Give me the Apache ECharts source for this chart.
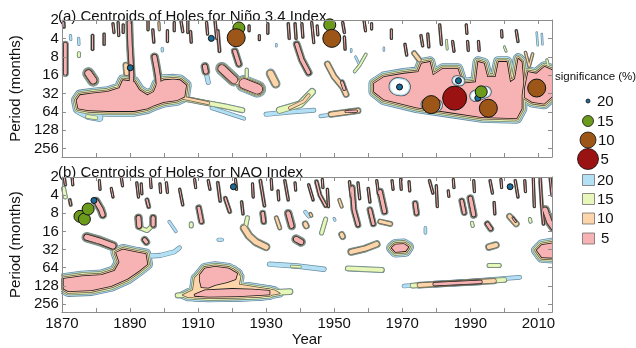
<!DOCTYPE html>
<html>
<head>
<meta charset="utf-8">
<script src="https://cdn.jsdelivr.net/npm/echarts@6/dist/echarts.min.js"></script>
<style>
html, body { margin: 0; padding: 0; background: #fff; }
#chart { width: 636px; height: 348px; }
</style>
</head>
<body>
<div id="chart"></div>
<script>
// significance levels, outermost first
const levelNames = ['20', '15', '10', '5']
const periodTicks = [2, 4, 8, 16, 32, 64, 128, 256]
const yearLabelStep = 20

// ---- (a) Nino 3.4 : filled regions [level, [[year, months], ...]]
const ninoAreas = [
    [3, [[1874.3,41],[1875.3,34],[1878.7,32],[1883.5,30],[1886.9,26],[1887.9,19.3],[1891.2,20.5],[1892.7,28],[1895.1,34],[1897,30],[1898,22],[1899.9,19.3],[1902.8,18.8],[1904.7,19.3],[1906.5,23.3],[1906,36],[1903.8,41],[1899.9,44],[1897,50],[1895.1,56],[1891.2,62],[1883.5,62],[1877.7,60],[1874.8,56]]],
    [3, [[1961.7,22],[1964.6,17.2],[1970.4,15.1],[1974.7,14.2],[1975.7,10.3],[1978.1,9.7],[1979,16.1],[1981.9,12.6],[1986.3,12.6],[1987.7,22],[1991.6,20.8],[1992.3,9.7],[1994,10.3],[1995,17.2],[1997.4,17.2],[1998.3,9.7],[2000.7,9.7],[2001.7,20.8],[2003.1,18.4],[2004.1,8.6],[2005.1,9.7],[2005.6,20.8],[2005.1,34],[2005.1,57],[2003.6,81],[1993.5,78],[1983.9,65],[1974.2,54],[1964.6,40],[1961.7,30]]],
    [3, [[2006,26.7],[2007,14.2],[2009.4,15.1],[2011.8,11.7],[2013.8,13],[2014.5,14],[2014.5,34],[2011.7,47],[2008.2,44],[2006,37]]],
]
// streaks [level, width (octaves), [[year, months], ...]]
const ninoStreaks = [
    [3,0.3,[[1871,5],[1871,15]]], [3,0.15,[[1870.5,2.2],[1870.6,2.6]]], [0,0.1,[[1872.5,3.6],[1872.6,4.2]]],
    [1,0.15,[[1875,7],[1875,7.8]]], [0,0.1,[[1874.9,4],[1875,5]]], [3,0.15,[[1879,3.6],[1879,6]]],
    [3,0.12,[[1882.4,3.4],[1882.4,5]]], [3,0.06,[[1885,2.3],[1885.3,3.2]]], [3,0.06,[[1886.5,2.2],[1886.7,3.6]]],
    [3,0.06,[[1888,2.4],[1888,3.2]]], [3,0.35,[[1889.8,2.2],[1890,5],[1890.3,10],[1890.5,16],[1890.3,24]]],
    [2,0.3,[[1888.8,11],[1889,15]]], [3,0.06,[[1895.3,2.1],[1895.3,2.9]]], [3,0.1,[[1896.7,2.9],[1897,4.6]]],
    [2,0.06,[[1898.5,2.2],[1898.6,2.9]]], [3,0.08,[[1901,3],[1901,4.5]]], [3,0.06,[[1903,2.2],[1903,3]]],
    [3,0.08,[[1905,2.1],[1905.5,3.1]]], [3,0.06,[[1907,2.1],[1907,3.2]]], [3,0.1,[[1907.8,3.1],[1908,4.6]]],
    [0,0.1,[[1899.5,5.8],[1899.5,6.4]]], [3,0.4,[[1897.2,8],[1897.8,12],[1898.3,18],[1898.5,26]]],
    [0,0.2,[[1899,17],[1905,18]]], [3,0.6,[[1877.8,15],[1879.2,19.5]]],
    [0,0.35,[[1875,62],[1878,75],[1881,80]]], [1,0.2,[[1877.5,76],[1880,80]]],
    [1,0.25,[[1905,38],[1912,45],[1918,52],[1923,60]]], [2,0.2,[[1906,38],[1913,46]]], [0,0.15,[[1914,55],[1923.5,82]]],
    [3,0.4,[[1912,11.5],[1912.3,14]]], [0,0.2,[[1912.3,14],[1913,21]]],
    [3,0.08,[[1912.5,2.2],[1912.8,3.4]]], [3,0.1,[[1915,2.1],[1915.5,4]]], [3,0.15,[[1915.8,3],[1916.3,6.5]]],
    [3,0.35,[[1920.8,6.5],[1922,10.5]]], [3,0.65,[[1917,12.5],[1920.5,19]]], [3,0.85,[[1923.5,22],[1927.5,27]]],
    [2,0.3,[[1920.5,20],[1923,22]]], [1,0.15,[[1924.3,13],[1924.3,17]]], [2,0.45,[[1931.3,15],[1932.8,22]]],
    [0,0.2,[[1930,70],[1937,64],[1944,60]]], [1,0.35,[[1934,60],[1940,48],[1943.5,30]]], [2,0.2,[[1937,55],[1941,43],[1942.5,34]]],
    [2,0.3,[[1949,70],[1957,61]]], [3,0.2,[[1953.5,63],[1956.5,62]]], [0,0.15,[[1946,75],[1949,71]]],
    [2,0.3,[[1948,10.5],[1950,17],[1952.5,25],[1953.5,33]]], [3,0.25,[[1952.3,21],[1953,27]]],
    [3,0.35,[[1939,5],[1940.5,9],[1942.5,14.5]]],
    [1,0.12,[[1956,14],[1957.5,11],[1959.3,7.3]]], [0,0.08,[[1957.5,11],[1956.3,8]]],
    [3,0.08,[[1925,2.5],[1925,3]]], [3,0.05,[[1928,3.6],[1928,4.2]]], [3,0.08,[[1930.5,2.3],[1930.5,3.3]]],
    [0,0.06,[[1933,5],[1933,5.4]]], [3,0.1,[[1936.5,2.3],[1936.8,4]]], [3,0.1,[[1938.5,2.3],[1938.8,4]]],
    [3,0.08,[[1940.5,2.3],[1940.8,3.8]]], [3,0.06,[[1943.4,2.2],[1944,4.7]]], [3,0.06,[[1945,2.5],[1945.2,3.5]]],
    [3,0.1,[[1952.5,2.2],[1953,3.2]]], [3,0.1,[[1953,3.8],[1953.2,6]]], [3,0.06,[[1958.8,2.1],[1959.2,3]]],
    [3,0.05,[[1961,2.3],[1961,2.8]]], [0,0.06,[[1955,6],[1955,6.6]]], [0,0.06,[[1964.6,5.7],[1964.6,6.3]]],
    [3,0.06,[[1966.8,2.9],[1966.8,4]]], [3,0.1,[[1970.8,5],[1971.3,7.5]]], [2,0.25,[[1973.5,7],[1975,9]]],
    [3,0.08,[[1975.5,3.6],[1976,5.3]]], [3,0.1,[[1977.5,3.4],[1977.8,5.5]]], [3,0.1,[[1981,2.4],[1981.5,5]]],
    [1,0.08,[[1983,4.3],[1983.2,6]]], [3,0.08,[[1984.8,4.5],[1985.2,6.5]]], [3,0.06,[[1988.8,2.4],[1989,3.3]]],
    [3,0.08,[[1989.2,4.5],[1989.4,6.3]]], [3,0.08,[[1992.4,4.5],[1992.6,6.3]]], [3,0.05,[[1999.2,3],[1999.3,3.8]]],
    [1,0.08,[[2000,5.5],[2000.5,6.5]]], [3,0.08,[[2003.5,3],[2004,4.5]]], [0,0.06,[[2009.5,3.2],[2009.8,5.2]]],
    [0,0.06,[[2011,3.4],[2011.2,5]]], [2,0.12,[[2006.2,6.8],[2007.3,11.5],[2008.3,7.2]]],
    [1,0.3,[[2004.5,24],[2006.5,26]]], [1,0.1,[[2012.5,9],[2013,12]]],
]
// holes [width (octaves), [[year, months], ...]]
const ninoHoles = [
    [0.8,[[1968.7,24.5],[1969.8,25]]], [0.35,[[1986,19.5],[1987,20]]], [0.5,[[1977.3,48],[1980,50]]],
    [0.6,[[1984.5,38],[1986.5,38]]], [0.45,[[1991.5,35],[1994.5,30]]],
]
// hole centroids by significance [year, months]
const ninoC20 = [[1890.1,12.1],[1913.9,4.0],[1969.2,25],[1986.5,19.7],[1992.2,38]]
const ninoC15 = [[1922,2.7],[1948.7,2.4],[1993.2,30]]
const ninoC10 = [[1921.2,3.9],[1949.3,4.0],[1978.5,48.5],[1995.3,55.7],[2009.5,26]]
const ninoC5 = [[1985.4,38]]

// ---- (b) NAO
const naoAreas = [
    [3, [[1870.5,98],[1875.8,89],[1881.6,85],[1885.5,72],[1886.9,52],[1885.9,36],[1887.9,32],[1892.2,36],[1894.6,38],[1895.1,56],[1892.7,72],[1889.3,98],[1884.5,129],[1878.7,152],[1871.9,158],[1870.5,143]]],
    [2, [[1909,95],[1911.5,68],[1916,62],[1920.5,68],[1922.5,90],[1922,122],[1928,138],[1932.5,152],[1934,172],[1928,196],[1915,204],[1907,198],[1905.5,182],[1908.5,150]]],
    [3, [[1910.5,85],[1912,66],[1915,62],[1919,66],[1921.5,80],[1921,100],[1918.5,112],[1915,124],[1913,138],[1911,135],[1910.5,105]]],
    [3, [[1909,178],[1912,152],[1920,144],[1926,147],[1931,155],[1931,178],[1922,190],[1913,194],[1909,188]]],
    [3, [[1966.9,30],[1968,26.5],[1970.5,26],[1971.8,29],[1971,34],[1968,35]]],
    [3, [[2009.5,33],[2011,27],[2014.5,25],[2014.5,44],[2011,43]]],
]
const naoStreaks = [
    [3,0.5,[[1877.3,20],[1881,23],[1885,28]]], [0,0.2,[[1893,42],[1899,40],[1903,35],[1904.5,30]]],
    [3,0.4,[[1892.5,9.5],[1892.7,13]]], [3,0.35,[[1896.8,9.5],[1896.8,12.5]]], [1,0.2,[[1893,14],[1895,15.5],[1896.5,13]]],
    [3,0.35,[[1894.3,22],[1894.8,24]]], [0,0.12,[[1901.5,11],[1903.5,16]]], [1,0.2,[[1908,12],[1908,13]]],
    [3,0.3,[[1910.2,6.5],[1911,11]]], [0,0.15,[[1916,22],[1917,22]]],
    [1,0.25,[[1904,185],[1909,180]]], [1,0.3,[[1930,168],[1937,160]]],
    [0,0.22,[[1931,56],[1939,60],[1947,68]]], [1,0.12,[[1937.5,61],[1940,62]]], [1,0.25,[[1954,66],[1964,70]]],
    [2,0.4,[[1923.5,14],[1925,19],[1927,24],[1930,29]]], [1,0.2,[[1924.5,9.5],[1924,13]]],
    [3,0.45,[[1938.8,21.5],[1940.3,24]]], [2,0.35,[[1955,35],[1959,31],[1962.5,26]]],
    [0,0.18,[[1970.5,129],[2004.5,93]]], [1,0.25,[[1973,127],[2000,102]]], [2,0.3,[[1975,125],[1997,106]]], [3,0.3,[[1979.5,120],[1993,110]]],
    [1,0.2,[[1995.5,59],[1998.5,59]]], [2,0.35,[[1995.5,29],[1997.5,27]]], [3,0.45,[[2012,7],[2013.2,11],[2014.5,14]]],
    [0,0.12,[[1976.8,14],[1976.8,17]]], [0,0.15,[[1941.5,7.6],[1942.5,9]]], [1,0.2,[[1947.5,10],[1946.3,17]]],
    [0,0.1,[[1950,9.8],[1950.2,10.4]]], [2,0.3,[[1952.2,18],[1952.5,19.5]]], [2,0.25,[[1963.5,11],[1966.5,12]]],
    [1,0.15,[[1990.5,11.5],[1990.7,13]]], [3,0.3,[[1995,12],[1996,14.5]]], [2,0.3,[[2001.5,9],[2003.5,12]]],
    [3,0.15,[[2002.5,9.5],[2003.3,11]]], [1,0.15,[[2007.5,10],[2007.7,11]]],
    [3,0.3,[[1929,8],[1929.3,11]]], [2,0.2,[[1933,9.5],[1934,14]]], [3,0.4,[[1936.5,8],[1937.5,13]]],
    [2,0.3,[[1941.5,12],[1941.8,13]]], [2,0.15,[[1943,8.2],[1943.3,8.8]]], [3,0.3,[[1955.3,3],[1955.8,7],[1957,12.5]]],
    [3,0.3,[[1960.5,7],[1961.5,12]]],
    [3,0.12,[[1870.7,2.1],[1871,2.7]]], [3,0.05,[[1873,2.1],[1873.2,2.7]]], [3,0.15,[[1872.3,4.8],[1872.6,5.8]]],
    [1,0.2,[[1870.5,3.1],[1871,4.3]]], [3,0.4,[[1880,5],[1881.5,7],[1882,8.5]]], [3,0.06,[[1881,2.3],[1881.2,3.2]]],
    [3,0.05,[[1884.5,3.1],[1885,4.3]]], [3,0.05,[[1887.5,2.1],[1887.8,2.8]]], [3,0.08,[[1892,2.5],[1892.5,4.3]]],
    [3,0.06,[[1893.3,2.6],[1893.5,3.8]]], [3,0.2,[[1895,4.8],[1895.5,6.2]]], [3,0.05,[[1896,2.1],[1896.2,3]]],
    [3,0.05,[[1898.8,2.6],[1899,3.6]]], [3,0.08,[[1900.7,2.5],[1901,3.6]]], [3,0.1,[[1904.6,3.2],[1905.5,5.8]]],
    [3,0.05,[[1909,2.2],[1909.3,3]]], [3,0.08,[[1913,2.3],[1913.5,3.2]]],
    [3,0.15,[[1915.8,2.5],[1916.5,5]]], [3,0.2,[[1918,4.5],[1919.3,7.5]]], [3,0.05,[[1921,2.2],[1921.3,3.2]]],
    [3,0.12,[[1922.8,5.2],[1923.2,8.2]]], [3,0.06,[[1926,2.6],[1926.2,4.3]]], [3,0.15,[[1928.3,2.3],[1929.5,6]]],
    [3,0.05,[[1931.5,2.2],[1931.7,3.2]]], [3,0.08,[[1933.5,3.4],[1933.7,4.8]]], [3,0.12,[[1935.5,2.3],[1936.5,4.8]]],
    [3,0.05,[[1938.5,2.5],[1938.7,3.3]]], [3,0.1,[[1942.5,2.7],[1943.8,4.8]]], [3,0.05,[[1946.5,2.2],[1946.7,3]]],
    [3,0.2,[[1944.8,2.4],[1945.8,4],[1947.5,6]]], [3,0.1,[[1948,3.2],[1948.3,6.2]]], [2,0.15,[[1951.5,4.8],[1952.2,6.2]]],
    [3,0.1,[[1954.5,2.4],[1955,4.2]]], [3,0.08,[[1957,2.5],[1957.5,4.6]]], [3,0.1,[[1960,3.1],[1960.5,5.2]]],
    [3,0.06,[[1962.5,2.3],[1963,3.8]]], [3,0.35,[[1963.5,3.5],[1964.8,7.5]]], [3,0.06,[[1967,2.3],[1967.3,3.2]]],
    [3,0.05,[[1969.5,2.2],[1969.7,3.2]]], [3,0.3,[[1973.8,5.5],[1974.2,8]]], [3,0.08,[[1972,2.4],[1972.2,3.4]]],
    [3,0.1,[[1978,2.3],[1979,3.7]]], [3,0.08,[[1980,2.8],[1980.3,6.2]]], [3,0.05,[[1983.5,3.4],[1983.7,4.2]]],
    [3,0.05,[[1985,2.2],[1985.2,3]]], [3,0.3,[[1987.5,5],[1988.2,7.8]]], [3,0.35,[[1990,4.5],[1991,8.5]]],
    [3,0.05,[[1991,2.3],[1991.2,3.5]]], [3,0.08,[[1995.8,2.3],[1996.5,3.7]]], [3,0.1,[[1997,5.3],[1997.2,8.2]]],
    [3,0.05,[[1999,2.2],[1999.2,3]]], [3,0.1,[[2003.2,2.3],[2004,4.3]]], [3,0.06,[[2006,2.3],[2006.2,3.5]]],
    [3,0.06,[[2008.5,2.1],[2008.8,6.2]]], [3,0.15,[[2010.5,2.1],[2011,6],[2011.5,12]]], [3,0.12,[[2013.5,2.1],[2014,4]]],
]
const naoHoles = []
const naoC20 = [[1879.4,4.9],[1920.4,2.9],[2001.7,2.9]]
const naoC15 = [[1875.3,9.0],[1876.6,10.0],[1877.7,6.8]]
const naoC10 = []
const naoC5 = []

// ---- styles
const fills = ['#b4e0f6', '#e6f7b9', '#fcd5aa', '#f7b3b4']
const edges = ['#6a8c9f', '#7b896a', '#67594b', '#1a1a1a']
const dotColors = ['#1b6b99', '#6c9b1c', '#9c5718', '#9a1212']
const dotSizes = [6, 12, 18, 24]
const BAND = 1.6
const EDGE = 0.8
const FONT = '"Liberation Sans", Arial, sans-serif'

function toXY(p) { return [p[0], Math.log2(p[1])] }

function contourSeries(g, areas, streaks, holes) {
    let list = []
    for (let k = 0; k < 4; k++) {
        let items = []
        areas.forEach(a => { if (a[0] >= k) items.push({ area: true, lv: a[0], pts: a[1] }) })
        streaks.forEach(s => { if (s[0] >= k) items.push({ area: false, lv: s[0], w: s[1], pts: s[2] }) })
        ;['edge', 'fill'].forEach((pass, j) => {
            list.push({
                type: 'custom', coordinateSystem: 'cartesian2d',
                xAxisIndex: g * 2, yAxisIndex: g * 2,
                clip: true, silent: true, z: 2 + k * 2 + j,
                data: items.map(it => toXY(it.pts[0])),
                renderItem(params, api) {
                    let it = items[params.dataIndex]
                    let pts = it.pts.map(p => api.coord(toXY(p)))
                    let oct = Math.abs(api.coord([1900, 2])[1] - api.coord([1900, 1])[1])
                    let color = pass === 'edge' ? edges[k] : fills[k]
                    if (it.area) {
                        let lw = 2 * (it.lv - k) * BAND + (pass === 'edge' ? 2 * EDGE : 0)
                        return { type: 'polygon', shape: { points: pts },
                            style: { fill: color, stroke: color, lineWidth: lw, lineJoin: 'round' } }
                    }
                    // streak width is the outer width; inner levels shrink inside it
                    let outer = it.w * oct
                    let band = Math.min(BAND, 0.06 * outer + 0.1)
                    let core = Math.max(outer - 2 * it.lv * band, 1)
                    let lw = core + 2 * (it.lv - k) * band + (pass === 'edge' ? 1.4 : 0)
                    return { type: 'polyline', shape: { points: pts },
                        style: { fill: null, stroke: color, lineWidth: lw, lineCap: 'round', lineJoin: 'round' } }
                }
            })
        })
    }
    ;[['#555', 2 * EDGE + 2.4], [fills[0], 2.4], ['#fff', 0]].forEach((st, j) => {
        list.push({
            type: 'custom', coordinateSystem: 'cartesian2d',
            xAxisIndex: g * 2, yAxisIndex: g * 2,
            clip: true, silent: true, z: 12 + j,
            data: holes.map(h => toXY(h[1][0])),
            renderItem(params, api) {
                let h = holes[params.dataIndex]
                let pts = h[1].map(p => api.coord(toXY(p)))
                let oct = Math.abs(api.coord([1900, 2])[1] - api.coord([1900, 1])[1])
                return { type: 'polyline', shape: { points: pts },
                    style: { fill: null, stroke: st[0], lineWidth: h[0] * oct + st[1], lineCap: 'round', lineJoin: 'round' } }
            }
        })
    })
    return list
}

function dotSeries(g, groups) {
    return groups.map((arr, i) => ({
        type: 'scatter', xAxisIndex: g * 2, yAxisIndex: g * 2, z: 20 + i, silent: true,
        symbolSize: dotSizes[i],
        itemStyle: { color: dotColors[i], borderColor: '#111', borderWidth: 1, opacity: 1 },
        data: arr.map(toXY)
    }))
}

function xAxes(g, labels) {
    let base = {
        gridIndex: g, type: 'value', min: 1870, max: 2014, interval: 10, z: 30,
        axisLine: { lineStyle: { color: '#8c8c8c', width: 1 } },
        axisTick: { inside: true, length: 4, lineStyle: { color: '#8c8c8c' } },
        splitLine: { show: false }
    }
    return [
        Object.assign({}, base, {
            position: 'bottom',
            name: labels ? 'Year' : '', nameLocation: 'middle', nameGap: 17,
            nameTextStyle: { fontSize: 15, color: '#111', fontFamily: FONT },
            axisLabel: { show: labels, fontSize: 15, color: '#111', fontFamily: FONT, margin: 4,
                formatter: v => ((v - 1870) % yearLabelStep === 0 ? String(v) : '') }
        }),
        Object.assign({}, base, { position: 'top', axisLabel: { show: false } })
    ]
}

function yAxes(g) {
    let base = {
        gridIndex: g, type: 'value', min: 1, max: 8.45, interval: 1, inverse: true, z: 30,
        axisLine: { lineStyle: { color: '#8c8c8c', width: 1 } },
        axisTick: { inside: true, length: 4, lineStyle: { color: '#8c8c8c' } },
        splitLine: { show: false }
    }
    return [
        Object.assign({}, base, {
            position: 'left',
            name: 'Period (months)', nameLocation: 'middle', nameGap: 33,
            nameTextStyle: { fontSize: 15, color: '#111', fontFamily: FONT },
            axisLabel: { fontSize: 15, color: '#111', fontFamily: FONT, margin: 3,
                formatter: v => (periodTicks.includes(Math.pow(2, v)) ? String(Math.pow(2, v)) : '') }
        }),
        Object.assign({}, base, { position: 'right', axisLabel: { show: false } })
    ]
}

function legendGraphics() {
    let out = [{ type: 'text', x: 555, y: 77, style: { text: 'significance (%)', font: '11.5px ' + FONT, fill: '#111', verticalAlign: 'middle' } }]
    let circleY = [101, 121, 140, 159]
    let circleR = [2, 5.5, 8, 10.5]
    levelNames.forEach((name, i) => {
        out.push({ type: 'circle', shape: { cx: 588, cy: circleY[i], r: circleR[i] },
            style: { fill: dotColors[i], stroke: '#111', lineWidth: 0.8 } })
        out.push({ type: 'text', x: 588 + Math.max(circleR[i], 7) + 2, y: circleY[i] + 1,
            style: { text: name, font: '15px ' + FONT, fill: '#111', verticalAlign: 'middle' } })
    })
    let boxY = [174.5, 193.5, 213, 233]
    levelNames.forEach((name, i) => {
        out.push({ type: 'rect', shape: { x: 582.5, y: boxY[i], width: 12, height: 11 },
            style: { fill: fills[i], stroke: '#6f6f6f', lineWidth: 0.8 } })
        out.push({ type: 'text', x: name.length > 1 ? 597 : 601, y: boxY[i] + 6,
            style: { text: name, font: '15px ' + FONT, fill: '#111', verticalAlign: 'middle' } })
    })
    return out
}

let chart = echarts.init(document.getElementById('chart'), null, { renderer: 'canvas' })
chart.setOption({
    animation: false,
    backgroundColor: '#fff',
    title: [
        { text: '(a) Centroids of Holes for Ni\u00f1o 3.4 Index', left: 53, top: 4,
          textStyle: { fontSize: 15, fontWeight: 'normal', color: '#111', fontFamily: FONT } },
        { text: '(b) Centroids of Holes for NAO Index', left: 53, top: 160,
          textStyle: { fontSize: 15, fontWeight: 'normal', color: '#111', fontFamily: FONT } }
    ],
    grid: [
        { left: 53, right: 84, top: 20, height: 137 },
        { left: 53, right: 84, top: 177, height: 138.5 }
    ],
    xAxis: [].concat(xAxes(0, false), xAxes(1, true)),
    yAxis: [].concat(yAxes(0), yAxes(1)),
    graphic: legendGraphics(),
    series: [].concat(
        contourSeries(0, ninoAreas, ninoStreaks, ninoHoles),
        dotSeries(0, [ninoC20, ninoC15, ninoC10, ninoC5]),
        contourSeries(1, naoAreas, naoStreaks, naoHoles),
        dotSeries(1, [naoC20, naoC15, naoC10, naoC5])
    )
})
</script>
</body>
</html>
